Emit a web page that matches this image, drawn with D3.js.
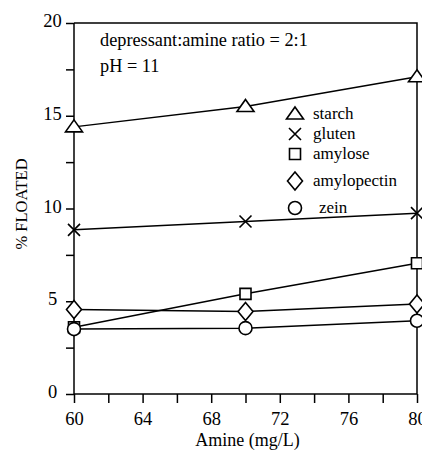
<!DOCTYPE html>
<html lang="en">
<head>
    <meta charset="utf-8">
    <title>% Floated vs Amine</title>
    <script src="https://d3js.org/d3.v7.min.js"></script>
    <style>
        body { margin: 0; background: #fff; }
    </style>
</head>
<body>
<svg width="422" height="453" font-family="Liberation Serif"></svg>
<script>
    // Data
    const amine = [60, 70, 80];
    const starch = [14.4, 15.5, 17.1];
    const gluten = [8.85, 9.3, 9.75];
    const amylose = [3.6, 5.4, 7.05];
    const amylopectin = [4.55, 4.45, 4.85];
    const zein = [3.5, 3.55, 3.95];

    const seriesNames = ['starch', 'gluten', 'amylose', 'amylopectin', 'zein'];
    const seriesValues = [starch, gluten, amylose, amylopectin, zein];

    const xTickLabels = [60, 64, 68, 72, 76, 80];
    const yTickLabels = [0, 5, 10, 15, 20];

    const serif = 'Liberation Serif';
    const svg = d3.select('svg');
    const padL = 74, padR = 417, padT = 23, padB = 394;

    const xScale = d3.scaleLinear().domain([60, 80]).range([padL, padR]);
    const yScale = d3.scaleLinear().domain([0, 20]).range([padB, padT]);

    //Frame (top and right)
    svg.append('path')
        .attr('d', `M${padL},${padT}H${padR}V${padB}`)
        .attr('fill', 'none')
        .attr('stroke', '#000')
        .attr('stroke-width', 1.5);

    //Axes
    const xAxis = d3.axisBottom(xScale)
        .tickValues(d3.range(60, 81, 2))
        .tickSize(9)
        .tickFormat(d => xTickLabels.includes(d) ? d : '');
    svg.append('g')
        .attr('transform', `translate(0,${padB})`)
        .call(xAxis)
        .attr('font-family', serif)
        .attr('font-size', 18.5)
        .call(g => g.select('.domain').attr('stroke-width', 1.5).attr('d', `M${padL},0H${padR}`))
        .call(g => g.selectAll('.tick line').attr('stroke-width', 1.5))
        .call(g => g.selectAll('.tick text').attr('font-family', serif).attr('fill', '#000').attr('dy', 19));

    //Y labels sit centred left of the axis
    const yAxis = d3.axisLeft(yScale)
        .tickValues(d3.range(0, 20.1, 2.5))
        .tickSize(8)
        .tickFormat(d => yTickLabels.includes(d) ? d : '');
    svg.append('g')
        .attr('transform', `translate(${padL},0)`)
        .call(yAxis)
        .attr('font-family', serif)
        .attr('font-size', 18.5)
        .call(g => g.select('.domain').attr('stroke-width', 1.5).attr('d', `M0,${padT}V${padB}`))
        .call(g => g.selectAll('.tick line').attr('stroke-width', 1.5))
        .call(g => g.selectAll('.tick text').attr('font-family', serif).attr('fill', '#000')
            .attr('text-anchor', 'middle').attr('x', -21.5).attr('dy', '0.2em'));

    //Axis titles
    svg.append('text')
        .attr('x', (padL + padR) / 2 + 2)
        .attr('y', 446)
        .attr('text-anchor', 'middle')
        .attr('font-family', serif)
        .attr('font-size', 18)
        .text('Amine (mg/L)');

    svg.append('text')
        .attr('transform', 'translate(27,204) rotate(-90)')
        .attr('text-anchor', 'middle')
        .attr('font-family', serif)
        .attr('font-size', 16.5)
        .text('% FLOATED');

    //Annotations
    svg.append('text').attr('x', 100).attr('y', 46)
        .attr('font-family', serif).attr('font-size', 18.3)
        .text('depressant:amine ratio = 2:1');
    svg.append('text').attr('x', 100).attr('y', 72)
        .attr('font-family', serif).attr('font-size', 18.3)
        .text('pH = 11');

    //Marker shapes
    const markers = {
        starch: 'M0,-7L8.5,5H-8.5Z',
        gluten: 'M-6,-6L6,6M-6,6L6,-6',
        amylose: 'M-5.5,-5.5H5.5V5.5H-5.5Z',
        amylopectin: 'M0,-9L7.5,0L0,9L-7.5,0Z',
        zein: d3.symbol(d3.symbolCircle, Math.PI * 6.5 * 6.5)()
    };

    const line = d3.line()
        .x((d, i) => xScale(amine[i]))
        .y(d => yScale(d));

    svg.append('g').selectAll('path')
        .data(seriesValues)
        .join('path')
        .attr('d', line)
        .attr('fill', 'none')
        .attr('stroke', '#000')
        .attr('stroke-width', 1.5);

    seriesValues.forEach((vals, s) => {
        svg.append('g').selectAll('path')
            .data(vals)
            .join('path')
            .attr('transform', (d, i) => `translate(${xScale(amine[i])},${yScale(d)})`)
            .attr('d', markers[seriesNames[s]])
            .attr('fill', seriesNames[s] === 'gluten' ? 'none' : '#fff')
            .attr('stroke', '#000')
            .attr('stroke-width', 1.6);
    });

    //Legend
    const legendMarkerY = [114, 134, 154, 181, 208];
    const legendTextX = [313, 313, 313, 313, 319];
    const legend = svg.append('g');
    seriesNames.forEach((name, i) => {
        legend.append('path')
            .attr('transform', `translate(295,${legendMarkerY[i]})`)
            .attr('d', markers[name])
            .attr('fill', '#fff')
            .attr('stroke', '#000')
            .attr('stroke-width', 1.6);
        legend.append('text')
            .attr('x', legendTextX[i])
            .attr('y', legendMarkerY[i] + 5)
            .attr('font-family', serif)
            .attr('font-size', 17)
            .text(name);
    });
</script>
</body>
</html>
